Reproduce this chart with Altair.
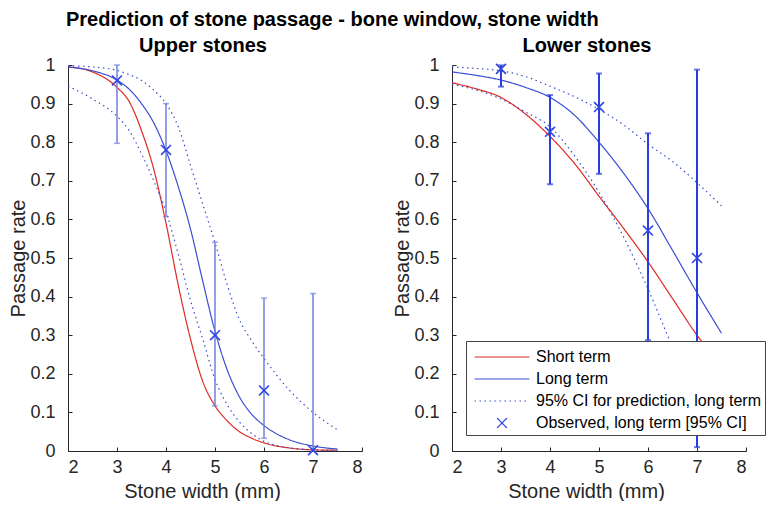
import altair as alt
import pandas as pd

SERIES = ["Short term", "Long term", "95% CI for prediction, long term", "Observed, long term [95% CI]"]
X_TICKS = [2, 3, 4, 5, 6, 7, 8]
Y_TICKS = [0, 0.1, 0.2, 0.3, 0.4, 0.5, 0.6, 0.7, 0.8, 0.9, 1]

# Upper stones (curves)
X_UPPER = [2, 2.5, 3, 3.25, 3.5, 3.75, 4, 4.25, 4.5, 4.75, 5, 5.25, 5.5, 5.75, 6, 6.5, 7, 7.5]
UPPER_SHORT = [0.995, 0.982, 0.942, 0.905, 0.83, 0.73, 0.59, 0.43, 0.29, 0.18, 0.117, 0.078, 0.05, 0.033, 0.021, 0.008, 0.003, 0.002]
UPPER_LONG = [0.995, 0.985, 0.961, 0.937, 0.90, 0.85, 0.778, 0.685, 0.575, 0.44, 0.31, 0.21, 0.14, 0.095, 0.066, 0.03, 0.013, 0.005]
UPPER_CI_HI = [0.998, 0.995, 0.986, 0.975, 0.96, 0.935, 0.90, 0.84, 0.74, 0.64, 0.54, 0.43, 0.34, 0.285, 0.24, 0.16, 0.10, 0.055]
UPPER_CI_LO = [0.945, 0.912, 0.867, 0.83, 0.77, 0.70, 0.62, 0.51, 0.39, 0.29, 0.185, 0.12, 0.075, 0.045, 0.025, 0.009, 0.003, 0.001]
UPPER_OBS_X = [3, 4, 5, 6, 7]
UPPER_OBS = [0.96, 0.78, 0.30, 0.157, 0.002]
UPPER_OBS_LO = [0.797, 0.607, 0.117, 0.033, 0.0]
UPPER_OBS_HI = [1.0, 0.90, 0.541, 0.396, 0.408]

# Lower stones
X_LOWER = [2, 2.5, 3, 3.5, 4, 4.5, 5, 5.5, 6, 6.5, 7, 7.5]
LOWER_SHORT = [0.954, 0.938, 0.916, 0.873, 0.815, 0.745, 0.66, 0.577, 0.49, 0.395, 0.30, 0.22]
LOWER_LONG = [0.982, 0.973, 0.961, 0.942, 0.916, 0.87, 0.80, 0.72, 0.628, 0.52, 0.41, 0.305]
LOWER_CI_HI = [0.995, 0.991, 0.985, 0.97, 0.945, 0.918, 0.885, 0.845, 0.795, 0.75, 0.695, 0.635]
LOWER_CI_LO = [0.95, 0.935, 0.912, 0.878, 0.84, 0.765, 0.67, 0.555, 0.42, 0.27, 0.14, 0.06]
LOWER_OBS_X = [3, 4, 5, 6, 7]
LOWER_OBS = [0.99, 0.827, 0.891, 0.571, 0.5]
LOWER_OBS_LO = [0.944, 0.691, 0.718, 0.287, 0.01]
LOWER_OBS_HI = [0.999, 0.922, 0.978, 0.823, 0.988]

COLORS = ["#dd2a22", "#3a4fd2", "#3a4fd2", "#2f45e0"]
DASHES = [[1, 0], [1, 0], [1.5, 3.5], [1, 0]]
LINE_SYM = "M-2.5,0L2.5,0"
X_SYM = "M-0.45,-0.45L0.45,0.45M-0.45,0.45L0.45,-0.45"
SHAPES = [LINE_SYM, LINE_SYM, LINE_SYM, X_SYM]

W, H = 294, 386
FONT = "Liberation Sans"
TXT = "#262626"


def curves(x, short, long_, hi, lo):
    rows = []
    for name, ys, key in [(SERIES[0], short, "s"), (SERIES[1], long_, "l"),
                          (SERIES[2], hi, "h"), (SERIES[2], lo, "o")]:
        for xi, yi in zip(x, ys):
            rows.append({"x": xi, "y": yi, "series": name, "curve": key})
    return pd.DataFrame(rows)


def obs(x, y, lo, hi):
    return pd.DataFrame({"x": x, "y": y, "lo": lo, "hi": hi, "series": SERIES[3]})


def panel(title, cdf, odf, bar_color, bar_width, show_legend):
    if show_legend:
        leg = alt.Legend(title=None, orient="none", legendX=14, legendY=276,
                         fillColor="white", strokeColor="#444444", padding=4,
                         labelFontSize=16, labelColor="black", labelFont=FONT,
                         symbolSize=484, symbolOffset=20, labelOffset=22,
                         symbolStrokeWidth=1.2, rowPadding=2, labelLimit=300)
    else:
        leg = None
    xs = alt.Scale(domain=[2, 8], nice=False, zero=False)
    ys = alt.Scale(domain=[0, 1], nice=False)
    xax = alt.Axis(values=X_TICKS, title="Stone width (mm)", grid=False,
                   tickSize=alt.ExprRef(expr="-4"), labelPadding=11,
                   titlePadding=5, titleX=W / 2 - 13, labelOverlap=False)
    yax = alt.Axis(values=Y_TICKS, title="Passage rate", grid=False,
                   tickSize=alt.ExprRef(expr="-4"), labelPadding=17,
                   labelExpr="format(datum.value, '~g')", titlePadding=1,
                   labelOverlap=False)
    color = alt.Color("series:N", scale=alt.Scale(domain=SERIES, range=COLORS), legend=leg)
    dash = alt.StrokeDash("series:N", scale=alt.Scale(domain=SERIES, range=DASHES), legend=leg)
    shape = alt.Shape("series:N", scale=alt.Scale(domain=SERIES, range=SHAPES), legend=leg)

    def X(f):
        return alt.X(f, scale=xs, axis=xax)

    def Y(f):
        return alt.Y(f, scale=ys, axis=yax)

    lines = alt.Chart(cdf).mark_line(strokeWidth=1.2, interpolate="monotone").encode(
        x=X("x:Q"), y=Y("y:Q"), color=color, strokeDash=dash, detail="curve:N")
    bars = alt.Chart(odf).mark_rule(color=bar_color, strokeWidth=bar_width).encode(
        x=X("x:Q"), y=Y("lo:Q"), y2="hi:Q")
    caps_lo = alt.Chart(odf).mark_tick(color=bar_color, orient="horizontal", size=6,
                                       thickness=bar_width).encode(x=X("x:Q"), y=Y("lo:Q"))
    caps_hi = alt.Chart(odf).mark_tick(color=bar_color, orient="horizontal", size=6,
                                       thickness=bar_width).encode(x=X("x:Q"), y=Y("hi:Q"))
    pts = alt.Chart(odf).mark_point(filled=False, size=484, strokeWidth=1.6, opacity=1).encode(
        x=X("x:Q"), y=Y("y:Q"), color=color, shape=shape)
    return alt.layer(lines, bars, caps_lo, caps_hi, pts).properties(
        width=W, height=H,
        title=alt.TitleParams(title, fontSize=20, fontWeight="bold", font=FONT,
                              color="black", frame="group", dx=-12, offset=0))


left = panel("Upper stones", curves(X_UPPER, UPPER_SHORT, UPPER_LONG, UPPER_CI_HI, UPPER_CI_LO),
             obs(UPPER_OBS_X, UPPER_OBS, UPPER_OBS_LO, UPPER_OBS_HI), "#6f80e0", 1.5, False)
right = panel("Lower stones", curves(X_LOWER, LOWER_SHORT, LOWER_LONG, LOWER_CI_HI, LOWER_CI_LO),
              obs(LOWER_OBS_X, LOWER_OBS, LOWER_OBS_LO, LOWER_OBS_HI), "#2a3de0", 2, True)

chart = alt.hconcat(left, right, spacing=29).resolve_scale(
    color="independent", strokeDash="independent", shape="independent"
).resolve_legend(
    color="independent", strokeDash="independent", shape="independent"
).properties(
    padding={"left": 0, "top": 2, "right": 0, "bottom": 0},
    title=alt.TitleParams("Prediction of stone passage - bone window, stone width",
                          fontSize=20, fontWeight="bold", font=FONT, color="black",
                          anchor="start", dx=57, offset=6)
).configure_view(stroke=None).configure_axis(
    labelFont=FONT, titleFont=FONT, labelFontSize=18, titleFontSize=20,
    labelColor=TXT, titleColor=TXT, domainColor=TXT, tickColor=TXT,
    titleFontWeight="normal"
)

chart.save("out.html", embed_options={"renderer": "svg", "actions": False})
